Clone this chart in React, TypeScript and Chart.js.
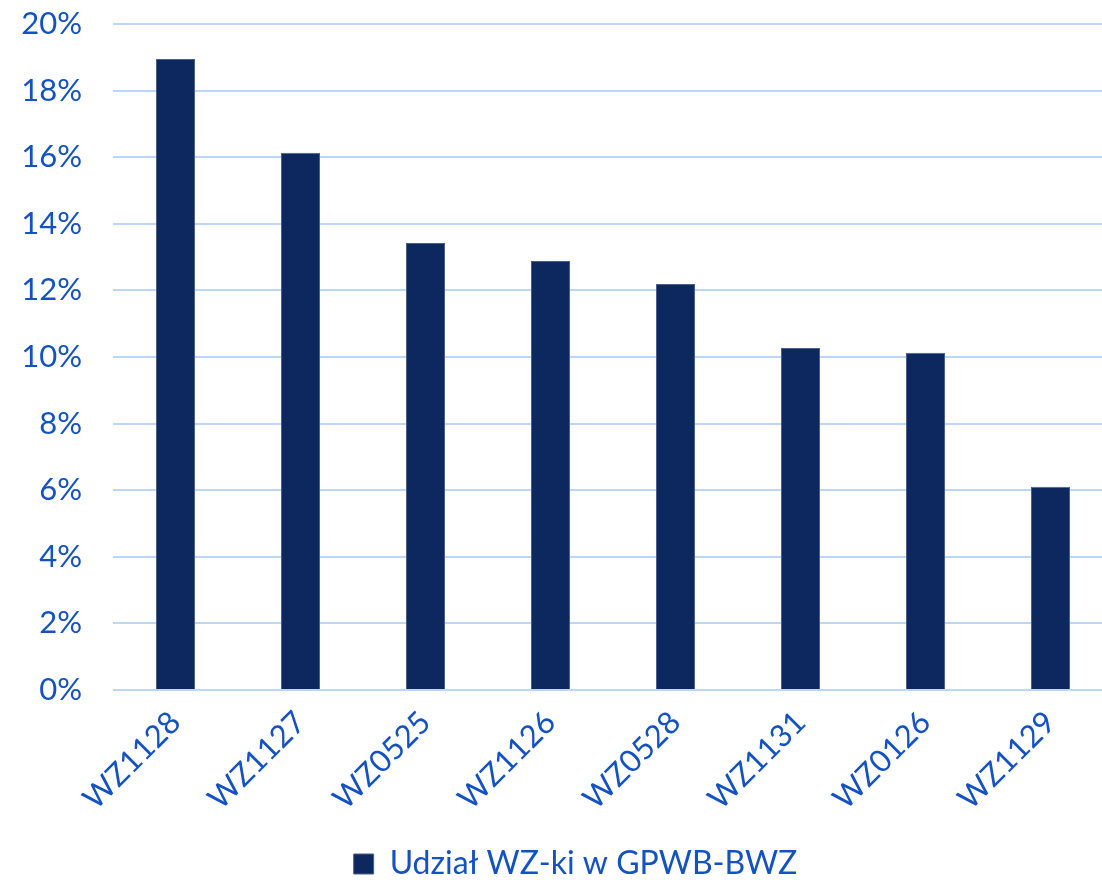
import React, { useEffect, useRef } from "react";
import { Chart, registerables } from "chart.js";

Chart.register(...registerables);

const categories = ["WZ1128", "WZ1127", "WZ0525", "WZ1126", "WZ0528", "WZ1131", "WZ0126", "WZ1129"];
const seriesLabel = "Udział WZ-ki w GPWB-BWZ";
const shareValues = [18.95, 16.13, 13.42, 12.88, 12.19, 10.27, 10.13, 6.1];
const yTicks = [0, 2, 4, 6, 8, 10, 12, 14, 16, 18, 20];

const TEXT = "#1452C2";
const BAR = "#0D285E";
const GRID = "#BCD6FA";
const FONT = "Lato, 'Open Sans', sans-serif";

const legendShift = {
  id: "legendShift",
  afterLayout(chart: any) {
    const l = chart.legend;
    if (!l) return;
    l.left += 9;
    l.right += 9;
    l.top += 4;
    l.bottom += 4;
  },
};

export default function App() {
  const ref = useRef<HTMLCanvasElement | null>(null);
  useEffect(() => {
    if (!ref.current) return;
    const chart = new Chart(ref.current, {
      type: "bar",
      data: {
        labels: categories,
        datasets: [
          {
            label: seriesLabel,
            data: shareValues,
            backgroundColor: BAR,
            borderColor: "#4A5F8C",
            borderWidth: 1,
            categoryPercentage: 1,
            barPercentage: 0.312,
          },
        ],
      },
      plugins: [legendShift],
      options: {
        animation: false,
        responsive: false,
        maintainAspectRatio: false,
        layout: { padding: { left: 20, top: 24, right: 0, bottom: 0 } },
        plugins: {
          tooltip: { enabled: false },
          legend: {
            position: "bottom",
            labels: {
              color: TEXT,
              font: { family: FONT, size: 32 },
              boxWidth: 20,
              boxHeight: 20,
              padding: 0,
            },
          },
        },
        scales: {
          x: {
            grid: { display: false },
            border: { display: false },
            afterFit: (axis: any) => {
              axis.height = 154;
            },
            ticks: {
              color: TEXT,
              font: { family: FONT, size: 31 },
              minRotation: 45,
              maxRotation: 45,
              padding: 6,
              autoSkip: false,
            },
          },
          y: {
            min: 0,
            max: 20,
            afterBuildTicks: (axis: any) => {
              axis.ticks = yTicks.map((v) => ({ value: v }));
            },
            afterFit: (axis: any) => {
              axis.width = 93;
              axis.paddingTop = 0;
              axis.paddingBottom = 0;
            },
            grid: { color: GRID, lineWidth: 2, drawTicks: false },
            border: { display: false },
            ticks: {
              color: TEXT,
              font: { family: FONT, size: 31 },
              padding: 31,
              callback: (v: any) => `${v}%`,
            },
          },
        },
      },
    });
    return () => chart.destroy();
  }, []);
  return (
    <div style={{ position: "absolute", left: 0, top: 0, width: 1102, height: 886, overflow: "hidden", background: "#fff" }}>
      <canvas ref={ref} width={1113} height={886} style={{ display: "block" }} />
    </div>
  );
}
